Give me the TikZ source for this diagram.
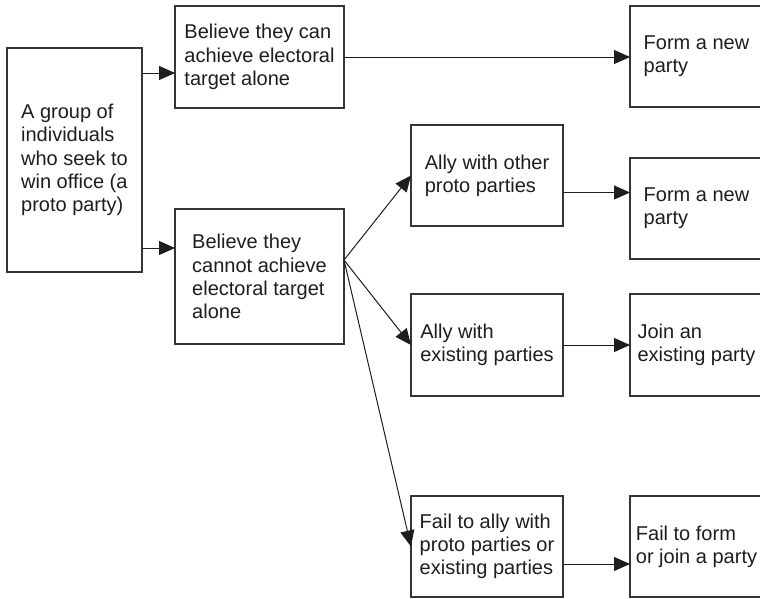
\documentclass[tikz,border=0pt]{standalone}
\usepackage{fontspec}
\setmainfont{Liberation Sans}
\usetikzlibrary{arrows.meta}

\definecolor{ink}{HTML}{1E1E1E}
\definecolor{rule}{HTML}{353535}

\tikzset{
  stagebox/.style={draw=rule, line width=1.2pt, fill=white, inner sep=0pt, outer sep=0pt,
    align=left, text=ink, font=\fontsize{20}{23.3}\selectfont},
  flow/.style={draw=ink, line width=1pt,
    -{Triangle[length=16pt,width=14pt]}},
}

\begin{document}
\begin{tikzpicture}[x=1pt,y=-1pt]
  \useasboundingbox (0,0) rectangle (760,598);
  \clip (0,0) rectangle (760,598);

  % starting point
  \node[stagebox, minimum width=135pt, minimum height=224pt] (src) at (74.5,160)
    {A group of\\individuals\\who seek to\\win office (a\\proto party)};

  % two beliefs
  \node[stagebox, minimum width=169pt, minimum height=102pt] (can) at (259.5,57)
    {Believe they can\\achieve electoral\\target alone};
  \node[stagebox, minimum width=169pt, minimum height=135pt] (cannot) at (259.5,276.5)
    {Believe they\\cannot achieve\\electoral target\\alone};

  % strategies
  \node[stagebox, minimum width=152pt, minimum height=101pt] (allyproto) at (487,175.5)
    {Ally with other\\proto parties};
  \node[stagebox, minimum width=152pt, minimum height=102pt] (allyexist) at (487,345)
    {Ally with\\existing parties};
  \node[stagebox, minimum width=152pt, minimum height=101pt] (failally) at (487,546.5)
    {Fail to ally with\\proto parties or\\existing parties};

  % outcomes
  \node[stagebox, minimum width=133pt, minimum height=101pt] (formA) at (696.5,56.5)
    {Form a new\\party};
  \node[stagebox, minimum width=133pt, minimum height=101pt] (formB) at (696.5,208.5)
    {Form a new\\party};
  \node[stagebox, minimum width=133pt, minimum height=102pt] (join) at (696.5,345)
    {Join an\\existing party};
  \node[stagebox, minimum width=133pt, minimum height=101pt] (failform) at (696.5,546.5)
    {Fail to form\\or join a party};

  % connectors
  \draw[flow] ([yshift=-16pt]src.east |- can.center) -- ([yshift=-16pt]can.west);
  \draw[flow] ([yshift=-88pt]src.east) -- ([yshift=-88pt]src.east -| cannot.west);
  \draw[flow] (can.east) -- (can.east -| formA.west);

  \coordinate (fan) at ([yshift=16.5pt]cannot.east);
  \draw[flow] (fan) -- (allyproto.west);
  \draw[flow] (fan) -- (allyexist.west);
  \draw[flow] (fan) -- (failally.west);

  \draw[flow] ([yshift=-17pt]allyproto.east) -- ([yshift=-17pt]allyproto.east -| formB.west);
  \draw[flow] (allyexist.east) -- (join.west);
  \draw[flow] ([yshift=-17.5pt]failally.east) -- ([yshift=-17.5pt]failally.east -| failform.west);
\end{tikzpicture}
\end{document}
